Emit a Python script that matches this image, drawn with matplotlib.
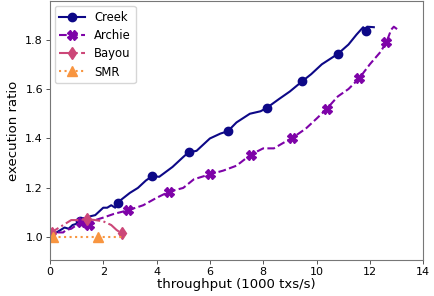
import matplotlib
matplotlib.use("Agg")
import matplotlib.pyplot as plt

creek_x = [0.1, 0.25, 0.4, 0.55, 0.7, 0.85, 1.0, 1.125, 1.35, 1.5, 1.7, 1.9, 2.0, 2.15, 2.3, 2.45, 2.54,
           3.0, 3.3, 3.6, 3.84, 4.1, 4.6, 5.0, 5.2, 5.5, 6.0, 6.4, 6.67, 7.0, 7.5, 7.9, 8.125, 8.6, 9.0,
           9.46, 9.8, 10.2, 10.8, 11.2, 11.5, 11.75, 11.85, 11.9, 12.15]
creek_y = [1.0, 1.02, 1.03, 1.04, 1.035, 1.05, 1.055, 1.067, 1.07, 1.085, 1.09, 1.11, 1.12, 1.12, 1.13, 1.12, 1.141,
           1.18, 1.2, 1.23, 1.248, 1.245, 1.285, 1.325, 1.344, 1.35, 1.4, 1.42, 1.429, 1.465, 1.5, 1.51, 1.523, 1.56, 1.59,
           1.631, 1.66, 1.7, 1.742, 1.78, 1.82, 1.85, 1.836, 1.852, 1.85]
creek_marks = [7, 16, 20, 24, 28, 32, 35, 38, 42]

archie_x = [0.3, 0.5, 0.6, 0.8, 1.0, 1.16, 1.3, 1.475, 1.7, 2.0, 2.4, 2.94, 3.5, 4.0, 4.475, 5.0, 5.4, 6.0,
            6.5, 7.0, 7.525, 8.0, 8.4, 8.8, 9.09, 9.6, 10.0, 10.375, 10.8, 11.2, 11.6, 12.0, 12.4, 12.625,
            12.8, 12.9, 13.05]
archie_y = [1.02, 1.02, 1.03, 1.035, 1.05, 1.063, 1.06, 1.05, 1.07, 1.08, 1.095, 1.11, 1.13, 1.16, 1.185, 1.2,
            1.235, 1.255, 1.27, 1.29, 1.334, 1.36, 1.36, 1.385, 1.402, 1.44, 1.48, 1.519, 1.57, 1.6, 1.643, 1.7,
            1.75, 1.79, 1.84, 1.852, 1.84]
archie_marks = [5, 7, 11, 14, 17, 20, 24, 27, 30, 33]

bayou_x = [0.0, 0.06, 0.2, 0.5, 0.8, 1.0, 1.375, 1.7, 2.0, 2.3, 2.5, 2.69]
bayou_y = [1.0, 1.019, 1.03, 1.05, 1.07, 1.07, 1.074, 1.07, 1.065, 1.05, 1.03, 1.016]
bayou_marks = [1, 6, 11]

smr_x = [0.1, 1.0, 1.81, 2.3, 2.8]
smr_y = [1.0, 1.0, 1.0, 1.0, 1.0]
smr_marks = [0, 2]

c_creek = "#0d0887"
c_archie = "#7e03a8"
c_bayou = "#cc4778"
c_smr = "#f89540"

fig = plt.figure(figsize=(4.34, 2.96), dpi=100)
ax = fig.add_axes([0.115, 0.122, 0.86, 0.873])

ax.plot(creek_x, creek_y, '-', color=c_creek, lw=1.5, marker='o', ms=6, markevery=creek_marks, label='Creek')
ax.plot(archie_x, archie_y, '--', color=c_archie, lw=1.5, marker='X', ms=6.5, markevery=archie_marks, label='Archie')
ax.plot(bayou_x, bayou_y, '-.', color=c_bayou, lw=1.5, marker='d', ms=6.5, markevery=bayou_marks, label='Bayou')
ax.plot(smr_x, smr_y, ':', color=c_smr, lw=1.5, marker='^', ms=6.5, markevery=smr_marks, label='SMR')

ax.set_xlim(0, 14)
ax.set_ylim(0.909, 1.954)
ax.set_xticks([0, 2, 4, 6, 8, 10, 12, 14])
ax.set_yticks([1.0, 1.2, 1.4, 1.6, 1.8])
ax.tick_params(labelsize=8, color='#555555', length=3, width=0.7, pad=2)
ax.set_xlabel('throughput (1000 txs/s)', fontsize=9.5, labelpad=1)
ax.set_ylabel('execution ratio', fontsize=9.5, labelpad=4)
for s in ax.spines.values():
    s.set_color('#777777')
ax.legend(loc='upper left', fontsize=8.4, handlelength=2.2, labelspacing=0.45, borderaxespad=0.4)

fig.savefig('out.png', dpi=100)
